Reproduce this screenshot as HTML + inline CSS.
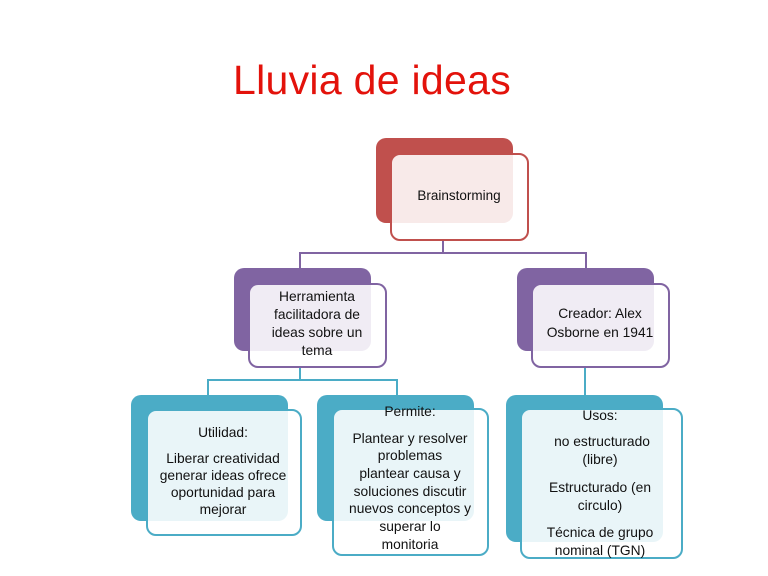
<!DOCTYPE html>
<html><head><meta charset="utf-8"><style>
body{margin:0;width:768px;height:576px;background:#fff;position:relative;overflow:hidden;font-family:"Liberation Sans",sans-serif}
.a{position:absolute;box-sizing:border-box}
.back{border-radius:10px}
.front{border-radius:10px;border:2px solid;background:rgba(255,255,255,0.88)}
.t{position:absolute;white-space:nowrap;color:#111;font-size:13.8px;transform:translateX(-50%);text-align:center}
.l{position:absolute;background:#8064a2}
.c{background:#4bacc6}
</style></head><body>
<div class="a" style="left:233px;top:57px;font-size:41px;letter-spacing:0.3px;color:#e3120b;white-space:nowrap">Lluvia de ideas</div>

<div class="a back" style="left:376px;top:138px;width:137px;height:85px;background:#c0504d"></div>
<div class="a front" style="left:390px;top:153px;width:139px;height:88px;border-color:#c0504d;background:rgba(255,255,255,0.88)"></div>
<div class="t" style="left:459px;top:188px;font-size:13.5px">Brainstorming</div>

<div class="l" style="left:442px;top:241px;width:2px;height:13px"></div>
<div class="l" style="left:299px;top:252px;width:288px;height:2px"></div>
<div class="l" style="left:299px;top:252px;width:2px;height:17px"></div>
<div class="l" style="left:585px;top:252px;width:2px;height:17px"></div>

<div class="a back" style="left:234px;top:268px;width:137px;height:83px;background:#8064a2"></div>
<div class="a front" style="left:248px;top:283px;width:139px;height:85px;border-color:#8064a2"></div>
<div class="t" style="left:317px;top:289px">Herramienta</div>
<div class="t" style="left:317px;top:307px">facilitadora de</div>
<div class="t" style="left:317px;top:325px">ideas sobre un</div>
<div class="t" style="left:317px;top:343px">tema</div>

<div class="a back" style="left:517px;top:268px;width:137px;height:83px;background:#8064a2"></div>
<div class="a front" style="left:531px;top:283px;width:139px;height:85px;border-color:#8064a2"></div>
<div class="t" style="left:600px;top:306px">Creador: Alex</div>
<div class="t" style="left:600px;top:325px">Osborne en 1941</div>

<div class="l c" style="left:299px;top:368px;width:2px;height:13px"></div>
<div class="l c" style="left:207px;top:379px;width:191px;height:2px"></div>
<div class="l c" style="left:207px;top:379px;width:2px;height:17px"></div>
<div class="l c" style="left:396px;top:379px;width:2px;height:17px"></div>
<div class="l c" style="left:584px;top:368px;width:2px;height:28px"></div>

<div class="a back" style="left:131px;top:395px;width:157px;height:126px;background:#4bacc6"></div>
<div class="a front" style="left:146px;top:409px;width:156px;height:127px;border-color:#4bacc6"></div>
<div class="t" style="left:223px;top:425px">Utilidad:</div>
<div class="t" style="left:223px;top:451px">Liberar creatividad</div>
<div class="t" style="left:223px;top:468px">generar ideas ofrece</div>
<div class="t" style="left:223px;top:485px">oportunidad para</div>
<div class="t" style="left:223px;top:502px">mejorar</div>

<div class="a back" style="left:317px;top:395px;width:157px;height:126px;background:#4bacc6"></div>
<div class="a front" style="left:332px;top:408px;width:157px;height:148px;border-color:#4bacc6"></div>
<div class="t" style="left:410px;top:404px">Permite:</div>
<div class="t" style="left:410px;top:431px">Plantear y resolver</div>
<div class="t" style="left:410px;top:448px">problemas</div>
<div class="t" style="left:410px;top:466px">plantear causa y</div>
<div class="t" style="left:410px;top:484px">soluciones discutir</div>
<div class="t" style="left:410px;top:501px">nuevos conceptos y</div>
<div class="t" style="left:410px;top:519px">superar lo</div>
<div class="t" style="left:410px;top:537px">monitoria</div>

<div class="a back" style="left:506px;top:395px;width:157px;height:147px;background:#4bacc6"></div>
<div class="a front" style="left:520px;top:408px;width:163px;height:151px;border-color:#4bacc6"></div>
<div class="t" style="left:600px;top:408px">Usos:</div>
<div class="t" style="left:602px;top:434px">no estructurado</div>
<div class="t" style="left:600px;top:452px">(libre)</div>
<div class="t" style="left:600px;top:480px">Estructurado (en</div>
<div class="t" style="left:600px;top:498px">circulo)</div>
<div class="t" style="left:600px;top:525px">Técnica de grupo</div>
<div class="t" style="left:600px;top:543px">nominal (TGN)</div>
</body></html>
